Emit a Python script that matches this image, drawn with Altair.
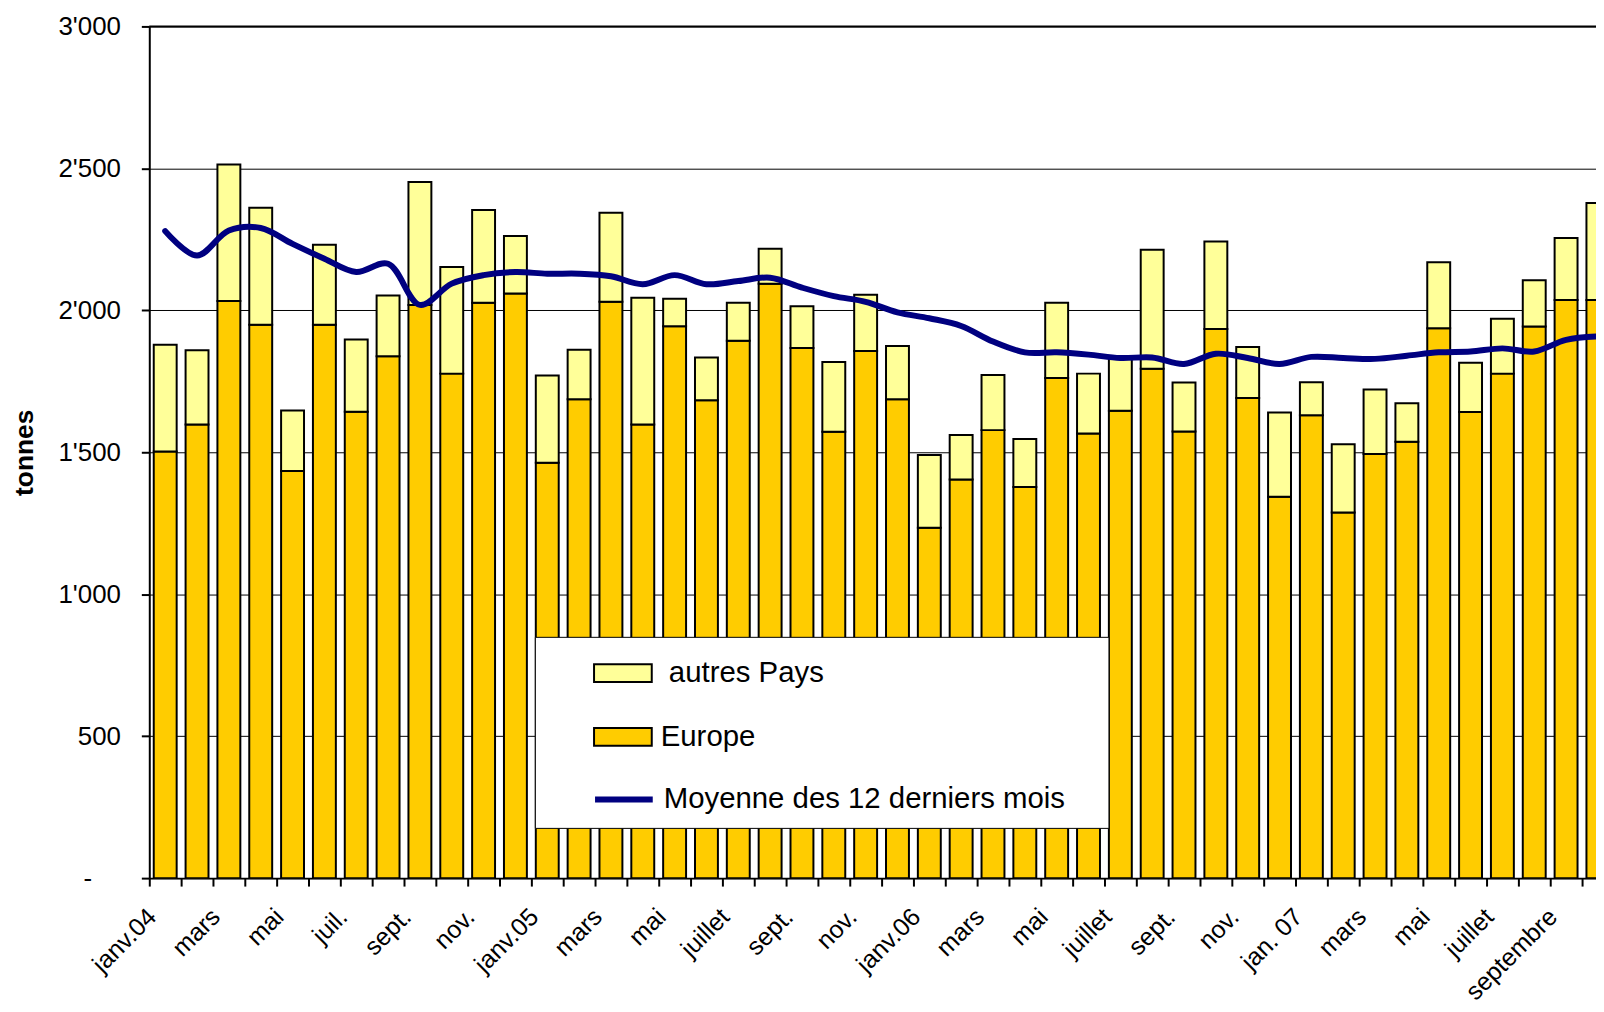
import altair as alt
import pandas as pd

# ---- data ----
europe = [1503, 1598, 2033, 1949, 1434, 1949, 1643, 1838, 2019, 1777, 2027, 2059,
          1463, 1687, 2030, 1598, 1944, 1683, 1893, 2094, 1867, 1572, 1857, 1687,
          1234, 1404, 1578, 1378, 1762, 1566, 1646, 1794, 1573, 1934, 1691, 1343,
          1630, 1288, 1494, 1537, 1937, 1642, 1777, 1943, 2036, 2036]
autres_pays = [376, 261, 481, 412, 213, 282, 254, 214, 433, 376, 326, 203,
               307, 174, 314, 446, 97, 151, 134, 123, 147, 246, 198, 187,
               256, 157, 194, 169, 265, 211, 186, 419, 173, 308, 180, 297,
               117, 240, 227, 136, 232, 173, 193, 163, 219, 342]
moyenne_12_mois = [2279, 2193, 2281, 2290, 2234, 2182, 2135, 2164, 2019, 2094, 2124, 2135,
                   2129, 2129, 2120, 2092, 2124, 2092, 2103, 2115, 2080, 2050, 2030, 1993,
                   1972, 1945, 1890, 1852, 1852, 1844, 1832, 1834, 1811, 1847, 1832, 1811,
                   1836, 1832, 1829, 1840, 1852, 1855, 1866, 1855, 1896, 1908]
tick_labels = ["janv.04", "mars", "mai", "juil.", "sept.", "nov.",
               "janv.05", "mars", "mai", "juillet", "sept.", "nov.",
               "janv.06", "mars", "mai", "juillet", "sept.", "nov.",
               "jan. 07", "mars", "mai", "juillet", "septembre"]
series = ["autres Pays", "Europe"]
series_colors = ["#FFFF99", "#FFCC00"]
line_name = "Moyenne des 12 derniers mois"
line_color = "#000080"
y_ticks = [0, 500, 1000, 1500, 2000, 2500, 3000]

n = len(europe)
rows = []
for i, (e, a) in enumerate(zip(europe, autres_pays)):
    rows.append({"mois": i, "serie": "Europe", "bas": 0, "haut": e})
    rows.append({"mois": i, "serie": "autres Pays", "bas": e, "haut": e + a})
bars_df = pd.DataFrame(rows)
line_df = pd.DataFrame({"mois": list(range(n)), "moyenne": moyenne_12_mois, "nom": [line_name] * n})

FONT = "Liberation Sans"
NB = "\u00a0"
ZW = "\u200b"
labels_js = "[" + ",".join("'" + t + "'" for t in tick_labels) + "]"

x_scale = alt.Scale(domain=[0, 45.44], nice=False, zero=False)
y_scale = alt.Scale(domain=[0, 3000], nice=False, zero=True)

x_axis = alt.Axis(
    values=list(range(0, n)),
    labelExpr=f"datum.value % 2 == 0 ? {labels_js}[datum.value / 2] : ''",
    labelAngle=315, labelAlign="right", labelBaseline="top",
    labelOffset=-6, labelPadding=18, labelFontSize=25, labelColor="black",
    labelFont=FONT, labelOverlap=False, labelFlush=False, labelBound=False,
    tickSize=8, tickWidth=2, tickColor="black",
    domainColor="black", domainWidth=2, grid=False, title=None,
)
y_axis = alt.Axis(
    values=y_ticks,
    labelExpr=f"datum.value == 0 ? '-{NB*4}{ZW}' : replace(format(datum.value, ','), ',', \"'\")",
    labelFontSize=26, labelColor="black", labelFont=FONT, labelPadding=21,
    tickSize=8, tickWidth=2, tickColor="black",
    domainColor="black", domainWidth=2,
    grid=True, gridColor="black", gridWidth=1,
    title="tonnes", titleFontSize=26.5, titleFontWeight="bold", titleFont=FONT,
    titleColor="black", titleAngle=270, titleAlign="center", titleBaseline="alphabetic",
    titleX=-117, titleY=428,
)

bars = alt.Chart(bars_df).transform_calculate(
    x0="datum.mois + 0.14", x1="datum.mois + 0.86"
).mark_rect(stroke="black", strokeWidth=2, clip=True).encode(
    x=alt.X("x0:Q", scale=x_scale, axis=x_axis),
    x2="x1:Q",
    y=alt.Y("bas:Q", scale=y_scale, axis=y_axis),
    y2="haut:Q",
    fill=alt.Fill("serie:N", scale=alt.Scale(domain=series, range=series_colors),
                  legend=alt.Legend(
                      title=None, orient="none", legendX=446, legendY=620, padding=0,
                      direction="vertical",
                      symbolType="M-1,-0.31H1V0.31H-1Z", symbolSize=3364,
                      symbolStrokeColor="black", symbolStrokeWidth=2,
                      labelFontSize=29.5, labelFont=FONT, labelColor="black",
                      labelOffset=8, labelLimit=700, rowPadding=19,
                      labelExpr=f"datum.label == 'autres Pays' ? '{ZW}{NB}autres Pays' : datum.label",
                  )),
)

line = alt.Chart(line_df).transform_calculate(
    xc="datum.mois + 0.5"
).mark_line(strokeWidth=6, interpolate="catmull-rom", clip=True,
            strokeCap="round", strokeJoin="round").encode(
    x=alt.X("xc:Q", scale=x_scale, axis=x_axis),
    y=alt.Y("moyenne:Q", scale=y_scale, axis=y_axis),
    stroke=alt.Stroke("nom:N", scale=alt.Scale(domain=[line_name], range=[line_color]),
                      legend=alt.Legend(
                          title=None, orient="none", legendX=445, legendY=745, padding=0,
                          symbolType="stroke", symbolSize=3364, symbolStrokeWidth=6,
                          labelFontSize=29.5, labelFont=FONT, labelColor="black",
                          labelOffset=8, labelLimit=700,
                      )),
)

top_rule = alt.Chart(pd.DataFrame({"k": [0]})).mark_rule(color="black", strokeWidth=2).encode(
    y=alt.YDatum(3000, scale=y_scale, axis=y_axis)
)

legend_box = alt.Chart(pd.DataFrame({"k": [0]})).mark_rect(
    fill="white", stroke="black", strokeWidth=1
).encode(
    x=alt.value(388), x2=alt.value(964.5), y=alt.value(614), y2=alt.value(806)
)

chart = alt.layer(bars, line, top_rule, legend_box).properties(
    width=1454, height=856,
    autosize=alt.AutoSizeParams(type="none"),
    padding={"left": 142, "top": 16, "right": 0, "bottom": 124},
    background="white",
).configure(font=FONT).configure_view(stroke="transparent")

chart.save("out.html", embed_options={"renderer": "svg", "actions": False})
